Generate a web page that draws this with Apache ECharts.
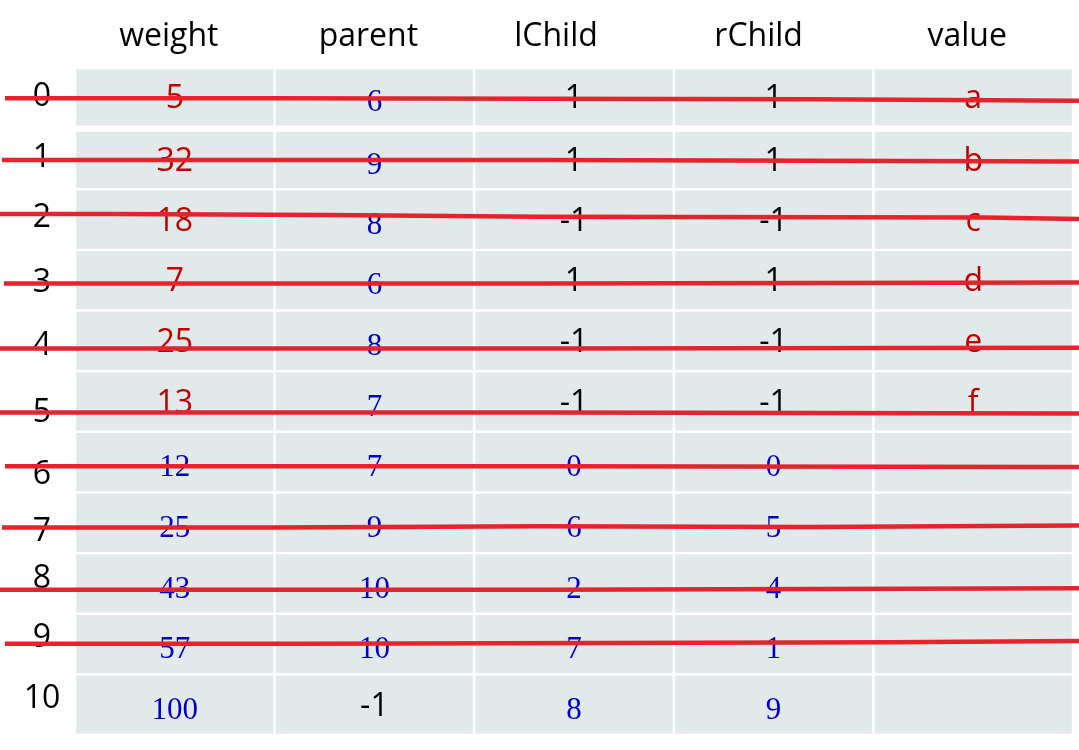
<!DOCTYPE html>
<html>
<head>
<meta charset="utf-8">
<script src="https://cdn.jsdelivr.net/npm/echarts@6/dist/echarts.min.js"></script>
<style>
html,body{margin:0;padding:0;background:#fff;}
#chart{width:1079px;height:750px;}
</style>
</head>
<body>
<div id="chart"></div>
<script>
// ---------- data ----------
const columns = ['weight', 'parent', 'lChild', 'rChild', 'value'];
const rowLabels = ['0', '1', '2', '3', '4', '5', '6', '7', '8', '9', '10'];

const weight = ['5', '32', '18', '7', '25', '13', '12', '25', '43', '57', '100'];
const parent = ['6', '9', '8', '6', '8', '7', '7', '9', '10', '10', '-1'];
const lChild = ['1', '1', '-1', '1', '-1', '-1', '0', '6', '2', '7', '8'];
const rChild = ['1', '1', '-1', '1', '-1', '-1', '0', '5', '4', '1', '9'];
const value  = ['a', 'b', 'c', 'd', 'e', 'f', '', '', '', '', ''];

// kind of each entry: r = initial (red), b = computed (blue), k = plain (black)
const weightKind = ['r', 'r', 'r', 'r', 'r', 'r', 'b', 'b', 'b', 'b', 'b'];
const parentKind = ['b', 'b', 'b', 'b', 'b', 'b', 'b', 'b', 'b', 'b', 'k'];
const lChildKind = ['k', 'k', 'k', 'k', 'k', 'k', 'b', 'b', 'b', 'b', 'b'];
const rChildKind = ['k', 'k', 'k', 'k', 'k', 'k', 'b', 'b', 'b', 'b', 'b'];
const valueKind  = ['r', 'r', 'r', 'r', 'r', 'r', 'r', 'r', 'r', 'r', 'r'];

// strike-through lines, [column position, row position] (hand drawn)
const strike0 = [[-0.351, 0.500], [0.997, 0.500], [0.997, 0.516], [3.702, 0.516], [3.702, 0.540], [5.03, 0.540]];
const strike1 = [[-0.366, 1.518], [2.370, 1.518], [2.370, 1.543], [5.03, 1.543]];
const strike2 = [[-0.376, 2.409], [0.175, 2.409], [0.175, 2.426], [1.263, 2.426], [1.263, 2.454], [2.330, 2.454], [4.554, 2.464], [4.554, 2.492], [5.03, 2.492]];
const strike3 = [[-0.356, 3.553], [2.330, 3.553], [2.330, 3.536], [5.03, 3.536]];
const strike4 = [[-0.376, 4.625], [2.370, 4.625], [2.370, 4.615], [5.03, 4.615]];
const strike5 = [[-0.376, 5.682], [2.370, 5.682], [2.370, 5.698], [5.03, 5.698]];
const strike6 = [[-0.351, 6.568], [2.330, 6.568], [2.330, 6.579], [5.03, 6.579]];
const strike7 = [[-0.366, 7.579], [0.987, 7.579], [0.987, 7.558], [2.330, 7.558], [3.677, 7.569], [3.677, 7.546], [5.03, 7.546]];
const strike8 = [[-0.376, 8.603], [2.370, 8.603], [2.370, 8.581], [5.03, 8.581]];
const strike9 = [[-0.351, 9.494], [1.132, 9.494], [1.132, 9.472], [4.083, 9.472], [4.083, 9.451], [5.03, 9.451]];

// ---------- build ----------
const colTexts = [weight, parent, lChild, rChild, value];
const colKinds = [weightKind, parentKind, lChildKind, rChildKind, valueKind];
const strikes = [strike0, strike1, strike2, strike3, strike4, strike5, strike6, strike7, strike8, strike9];

const cells = [];
for (let c = 0; c < colTexts.length; c++) {
  for (let r = 0; r < rowLabels.length; r++) {
    cells.push({ col: c, row: r, text: colTexts[c][r], kind: colKinds[c][r] });
  }
}

// layout of the table inside the 1079x750 canvas
const W = 1079, H = 750;
const TL = 75, TR = 1073, TT = 68, TB = 735;
const colW = (TR - TL) / columns.length;
const rowH = (TB - TT) / rowLabels.length;

const SANS = '"Open Sans", "Liberation Sans", sans-serif';
const SERIF = '"Liberation Serif", "DejaVu Serif", serif';
const kindStyle = {
  r: { fill: '#c00000', font: '32px ' + SANS, dy: 2 },
  k: { fill: '#000000', font: '32px ' + SANS, dy: 2 },
  b: { fill: '#0000c8', font: '31px ' + SERIF, dy: 6 }
};

// small vertical nudges of the row labels (layout, px)
const rowLabelNudge = [-1, -1, -2, 3, 5, 11, 13, 9, -5, -6, -6];
// small horizontal nudges of the header labels (layout, px)
const headerNudge = [-6, -6, -18, -15, -6];

const rowRich = {};
rowLabelNudge.forEach((d, i) => {
  rowRich['n' + i] = {
    fontFamily: SANS, fontSize: 32, color: '#000',
    padding: d >= 0 ? [2 * d, 0, 0, 0] : [0, 0, -2 * d, 0]
  };
});
const headRich = {};
headerNudge.forEach((d, i) => {
  headRich['h' + i] = {
    fontFamily: SANS, fontSize: 32, color: '#000',
    padding: d <= 0 ? [0, -2 * d, 0, 0] : [0, 0, 0, 2 * d]
  };
});

const chart = echarts.init(document.getElementById('chart'), null, { renderer: 'canvas' });

const series = [{
  type: 'custom',
  xAxisIndex: 0,
  yAxisIndex: 0,
  data: cells.map(c => [c.col, c.row]),
  z: 2,
  renderItem: function (params, api) {
    const cell = cells[params.dataIndex];
    const c = api.value(0), r = api.value(1);
    const p0 = api.coord([c, r]);
    const p1 = api.coord([c + 1, r + 1]);
    const x = Math.min(p0[0], p1[0]);
    let y = Math.min(p0[1], p1[1]);
    const w = Math.abs(p1[0] - p0[0]);
    let h = Math.abs(p1[1] - p0[1]);
    // the first row is set slightly apart from the rest
    if (r === 0) { h -= 2; }
    if (r === 1) { y += 2; h -= 2; }
    const st = kindStyle[cell.kind];
    const children = [{
      type: 'rect',
      shape: { x: x + 1.2, y: y + 1.2, width: w - 2.4, height: h - 2.4 },
      style: { fill: '#e2e9ea' }
    }];
    if (cell.text) {
      children.push({
        type: 'text',
        style: {
          text: cell.text, x: x + w / 2, y: y + h / 2 + st.dy,
          align: 'center', verticalAlign: 'middle',
          fill: st.fill, font: st.font
        }
      });
    }
    return { type: 'group', children: children };
  }
}];

strikes.forEach((s, i) => {
  series.push({
    type: 'line',
    name: 'strike' + i,
    xAxisIndex: 0,
    yAxisIndex: 0,
    data: s,
    showSymbol: false,
    symbol: 'none',
    clip: false,
    z: 5,
    lineStyle: { color: '#e5232d', width: 4.5, cap: 'butt', join: 'round' }
  });
});

chart.setOption({
  animation: false,
  backgroundColor: '#ffffff',
  grid: [
    { left: 0, right: 0, top: 0, bottom: 0 },
    { left: TL, right: W - TR, top: TT, bottom: H - TB }
  ],
  xAxis: [
    { type: 'value', gridIndex: 0, min: -TL / colW, max: (W - TL) / colW, show: false },
    {
      type: 'category', gridIndex: 1, data: columns, position: 'top', boundaryGap: true,
      axisLine: { show: false }, axisTick: { show: false }, splitLine: { show: false },
      axisLabel: {
        margin: 31, verticalAlign: 'middle',
        formatter: function (v, i) { return '{h' + i + '|' + v + '}'; },
        rich: headRich
      }
    }
  ],
  yAxis: [
    { type: 'value', gridIndex: 0, min: -TT / rowH, max: (H - TT) / rowH, inverse: true, show: false },
    {
      type: 'category', gridIndex: 1, data: rowLabels, inverse: true, position: 'left', boundaryGap: true,
      axisLine: { show: false }, axisTick: { show: false }, splitLine: { show: false },
      axisLabel: {
        margin: 33, align: 'center',
        formatter: function (v, i) { return '{n' + i + '|' + v + '}'; },
        rich: rowRich
      }
    }
  ],
  series: series
});
</script>
</body>
</html>
